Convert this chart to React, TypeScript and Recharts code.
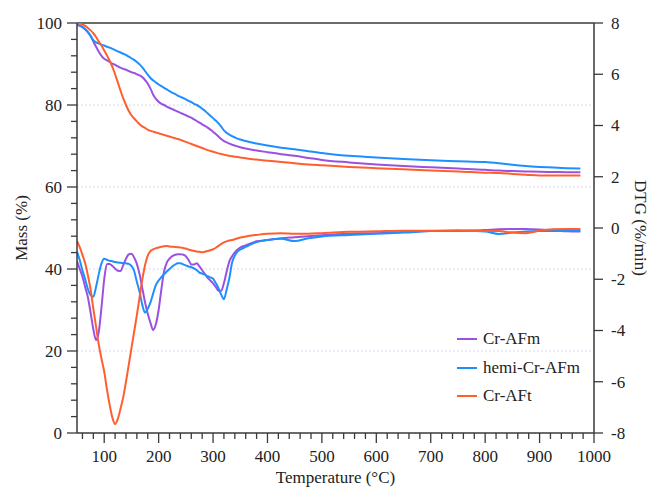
import React from 'react';
import { LineChart, Line, XAxis, YAxis, ReferenceLine, Legend, Label } from 'recharts';

const temps = [
  50, 55, 60, 65, 70, 75, 80, 85, 90, 95, 100, 105, 110, 115, 120, 125, 130, 135, 140, 145,
  150, 155, 160, 165, 170, 175, 180, 185, 190, 195, 200, 205, 210, 215, 220, 225, 230, 235, 240, 245,
  250, 255, 260, 265, 270, 275, 280, 285, 290, 295, 300, 305, 310, 315, 320, 325, 330, 335, 340, 345,
  350, 360, 380, 400, 425, 450, 475, 500, 550, 600, 650, 700, 750, 800, 825, 850, 875, 900, 925, 950, 975,
];

const massAFm = [
  99.5, 99.3, 99.0, 98.5, 97.8, 96.8, 95.5, 94.2, 93.0, 92.0, 91.3, 90.9, 90.5, 90.1, 89.8, 89.4, 89.1, 88.8, 88.6, 88.3,
  88.0, 87.8, 87.5, 87.2, 86.8, 86.1, 85.2, 84.0, 82.5, 81.5, 80.8, 80.3, 80.0, 79.6, 79.3, 79.0, 78.7, 78.4, 78.1, 77.8,
  77.5, 77.2, 76.9, 76.5, 76.1, 75.7, 75.3, 74.9, 74.5, 74.0, 73.5, 72.9, 72.3, 71.7, 71.2, 70.9, 70.6, 70.3, 70.1, 69.9,
  69.7, 69.4, 68.9, 68.5, 68.0, 67.6, 67.1, 66.6, 66.0, 65.5, 65.1, 64.8, 64.5, 64.2, 64.0, 63.9, 63.8, 63.7, 63.65, 63.6, 63.6,
];

const massHemi = [
  99.7, 99.4, 99.0, 98.5, 97.8, 96.9, 95.8, 95.3, 95.0, 94.7, 94.5, 94.2, 94.0, 93.7, 93.4, 93.1, 92.8, 92.5, 92.2, 91.8,
  91.4, 91.0, 90.5, 89.9, 89.2, 88.3, 87.4, 86.6, 86.0, 85.5, 85.0, 84.6, 84.2, 83.8, 83.4, 83.0, 82.7, 82.3, 82.0, 81.7,
  81.4, 81.0, 80.7, 80.3, 80.0, 79.6, 79.1, 78.6, 78.0, 77.4, 76.8, 76.2, 75.5, 74.7, 73.8, 73.2, 72.8, 72.4, 72.1, 71.8,
  71.6, 71.2, 70.6, 70.1, 69.6, 69.2, 68.7, 68.3, 67.6, 67.2, 66.8, 66.5, 66.3, 66.1, 65.8, 65.4, 65.1, 64.9, 64.75, 64.6, 64.5,
];

const massAFt = [
  100, 99.9, 99.6, 99.3, 98.8, 98.2, 97.5, 96.6, 95.5, 94.5, 93.3, 92.1, 90.8, 89.3, 87.5, 85.5, 83.5, 81.6, 80.0, 78.6,
  77.5, 76.7, 76.0, 75.3, 74.8, 74.4, 74.0, 73.7, 73.5, 73.3, 73.1, 72.9, 72.7, 72.5, 72.3, 72.1, 71.9, 71.7, 71.5, 71.25,
  71.0, 70.75, 70.5, 70.25, 70.0, 69.75, 69.5, 69.25, 69.0, 68.8, 68.6, 68.4, 68.2, 68.05, 67.9, 67.75, 67.6, 67.5, 67.4, 67.3,
  67.2, 67.0, 66.7, 66.4, 66.1, 65.8, 65.5, 65.3, 64.9, 64.6, 64.3, 64.0, 63.8, 63.5, 63.4, 63.2, 63.0, 62.8, 62.8, 62.8, 62.8,
];

const dtgAFm = [
  -1.3, -1.6, -1.9, -2.3, -2.7, -3.3, -3.95, -4.37, -4.05, -3.1, -2.0, -1.4, -1.4, -1.48, -1.58, -1.67, -1.68, -1.45, -1.2, -1.03,
  -1.0, -1.15, -1.4, -1.8, -2.35, -2.9, -3.35, -3.7, -3.98, -3.75, -3.2, -2.4, -1.7, -1.35, -1.2, -1.1, -1.05, -1.02, -1.02, -1.04,
  -1.1, -1.25, -1.42, -1.42, -1.38, -1.5, -1.65, -1.8, -1.95, -2.05, -2.16, -2.3, -2.45, -2.45, -2.15, -1.7, -1.3, -1.1, -0.95, -0.84,
  -0.76, -0.68, -0.52, -0.47, -0.4, -0.36, -0.32, -0.28, -0.22, -0.2, -0.16, -0.12, -0.12, -0.08, -0.05, -0.04, -0.04, -0.06, -0.1, -0.13, -0.14,
];

const dtgHemi = [
  -0.92, -1.25, -1.65, -2.0, -2.38, -2.62, -2.68, -2.3, -1.8, -1.38, -1.2, -1.24, -1.28, -1.3, -1.33, -1.35, -1.36, -1.37, -1.38, -1.4,
  -1.48, -1.68, -2.1, -2.5, -3.0, -3.3, -3.15, -2.9, -2.55, -2.22, -2.05, -1.92, -1.8, -1.7, -1.6, -1.5, -1.43, -1.38, -1.38, -1.42,
  -1.46, -1.5, -1.53, -1.58, -1.65, -1.74, -1.78, -1.82, -1.88, -1.93, -1.98, -2.15, -2.35, -2.6, -2.78, -2.4, -1.95, -1.35, -1.08, -0.92,
  -0.84, -0.74, -0.55, -0.47, -0.42, -0.51, -0.4, -0.33, -0.27, -0.22, -0.18, -0.12, -0.1, -0.14, -0.23, -0.18, -0.14, -0.12, -0.12, -0.12, -0.1,
];

const dtgAFt = [
  -0.5, -0.75, -1.05, -1.38, -1.85, -2.4, -3.15, -3.85, -4.55, -5.1, -5.6, -6.3, -6.9, -7.4, -7.65, -7.45, -7.05, -6.6, -6.0, -5.35,
  -4.7, -4.05, -3.4, -2.7, -2.0, -1.45, -1.08, -0.9, -0.83, -0.79, -0.76, -0.73, -0.71, -0.7, -0.72, -0.73, -0.74, -0.75, -0.76, -0.78,
  -0.8, -0.84, -0.87, -0.9, -0.92, -0.93, -0.95, -0.93, -0.9, -0.87, -0.83, -0.77, -0.7, -0.62, -0.56, -0.52, -0.49, -0.47, -0.44, -0.4,
  -0.37, -0.33, -0.27, -0.22, -0.2, -0.22, -0.22, -0.2, -0.15, -0.13, -0.11, -0.11, -0.1, -0.12, -0.12, -0.18, -0.2, -0.1, -0.05, -0.04, -0.04,
];

const seriesNames = ['Cr-AFm', 'hemi-Cr-AFm', 'Cr-AFt'];
const seriesColors = ['#9B51E0', '#1E8FFF', '#FF5F2E'];

const xTicks = Array.from({ length: 48 }, (_, i) => 60 + i * 20);
const leftTicks = Array.from({ length: 26 }, (_, i) => i * 4);
const rightTicks = [-8, -6, -4, -2, 0, 2, 4, 6, 8];
const gridValues = [20, 40, 60, 80];

const data = temps.map((t, i) => ({
  T: t,
  mAFm: massAFm[i],
  mHemi: massHemi[i],
  mAFt: massAFt[i],
  dAFm: dtgAFm[i],
  dHemi: dtgHemi[i],
  dAFt: dtgAFt[i],
}));

const FONT = '"Liberation Serif", "Times New Roman", serif';
const AXIS = '#3a3a3a';
const TXT = '#222';

const LeftTick = (props: any) => {
  const { x, y, payload } = props;
  const major = payload.value % 20 === 0;
  return (
    <g>
      <line x1={x} x2={x - (major ? 10 : 6)} y1={y} y2={y} stroke={AXIS} strokeWidth={1.3} />
      {major && (
        <text x={x - 15} y={y} dy="0.35em" textAnchor="end" fontSize={17} fontFamily={FONT} fill={TXT}>
          {payload.value}
        </text>
      )}
    </g>
  );
};

const RightTick = (props: any) => {
  const { x, y, payload } = props;
  return (
    <g>
      <line x1={x} x2={x + 9} y1={y} y2={y} stroke={AXIS} strokeWidth={1.3} />
      <text x={x + 17} y={y} dy="0.35em" textAnchor="start" fontSize={17} fontFamily={FONT} fill={TXT}>
        {payload.value}
      </text>
    </g>
  );
};

const BottomTick = (props: any) => {
  const { x, y, payload } = props;
  const major = payload.value % 100 === 0;
  return (
    <g>
      <line x1={x} x2={x} y1={y} y2={y + (major ? 10 : 6)} stroke={AXIS} strokeWidth={1.3} />
      {major && (
        <text x={x} y={y + 29} textAnchor="middle" fontSize={17} fontFamily={FONT} fill={TXT}>
          {payload.value}
        </text>
      )}
    </g>
  );
};

const LegendContent = () => (
  <div style={{ fontFamily: FONT, fontSize: 17, color: TXT }}>
    {seriesNames.map((n, i) => (
      <div key={n} style={{ display: 'flex', alignItems: 'center', height: 28.5 }}>
        <span style={{ display: 'inline-block', width: 20, height: 2, background: seriesColors[i], marginRight: 6 }} />
        <span>{n}</span>
      </div>
    ))}
  </div>
);

export default function App() {
  return (
    <div style={{ position: 'absolute', left: 0, top: 0, width: 650, height: 487, background: '#fff' }}>
      <LineChart width={650} height={487} data={data} margin={{ top: 23, right: 0, bottom: 10, left: 0 }}>
        <XAxis
          dataKey="T"
          type="number"
          domain={[50, 1000]}
          ticks={xTicks}
          interval={0}
          tickSize={0}
          tickMargin={0}
          tickLine={false}
          tick={<BottomTick />}
          axisLine={{ stroke: AXIS, strokeWidth: 1.5 }}
          height={44}
          allowDataOverflow
        >
          <Label
            content={(p: any) => {
              const vb = p.viewBox;
              return (
                <text x={vb.x + vb.width / 2} y={vb.y + 50} textAnchor="middle" fontSize={17} fontFamily={FONT} fill={TXT}>
                  Temperature (°C)
                </text>
              );
            }}
          />
        </XAxis>
        <YAxis
          yAxisId="left"
          domain={[0, 100]}
          ticks={leftTicks}
          interval={0}
          tickSize={0}
          tickMargin={0}
          tickLine={false}
          tick={<LeftTick />}
          axisLine={{ stroke: AXIS, strokeWidth: 1.5 }}
          width={77}
          allowDataOverflow
        >
          <Label
            content={(p: any) => {
              const vb = p.viewBox;
              const cx = 21;
              const cy = vb.y + vb.height / 2;
              return (
                <text x={cx} y={cy} transform={`rotate(-90, ${cx}, ${cy})`} textAnchor="middle" dominantBaseline="central" fontSize={17} fontFamily={FONT} fill={TXT}>
                  Mass (%)
                </text>
              );
            }}
          />
        </YAxis>
        <YAxis
          yAxisId="right"
          orientation="right"
          domain={[-8, 8]}
          ticks={rightTicks}
          interval={0}
          tickSize={0}
          tickMargin={0}
          tickLine={false}
          tick={<RightTick />}
          axisLine={{ stroke: AXIS, strokeWidth: 1.5 }}
          width={56}
          allowDataOverflow
        >
          <Label
            content={(p: any) => {
              const vb = p.viewBox;
              const cx = vb.x + 46;
              const cy = vb.y + vb.height / 2;
              return (
                <text x={cx} y={cy} transform={`rotate(90, ${cx}, ${cy})`} textAnchor="middle" dominantBaseline="central" fontSize={17} fontFamily={FONT} fill={TXT}>
                  DTG (%/min)
                </text>
              );
            }}
          />
        </YAxis>
        {gridValues.map((v) => (
          <ReferenceLine key={v} yAxisId="left" y={v} stroke="#d6d6f5" strokeDasharray="2 2" strokeWidth={1} />
        ))}
        <ReferenceLine yAxisId="left" y={100} stroke={AXIS} strokeWidth={1.5} />
        <Line yAxisId="left" type="monotone" dataKey="mAFm" stroke={seriesColors[0]} strokeWidth={2} dot={false} isAnimationActive={false} />
        <Line yAxisId="left" type="monotone" dataKey="mHemi" stroke={seriesColors[1]} strokeWidth={2} dot={false} isAnimationActive={false} />
        <Line yAxisId="left" type="monotone" dataKey="mAFt" stroke={seriesColors[2]} strokeWidth={2} dot={false} isAnimationActive={false} />
        <Line yAxisId="right" type="monotone" dataKey="dAFm" stroke={seriesColors[0]} strokeWidth={2} dot={false} isAnimationActive={false} />
        <Line yAxisId="right" type="monotone" dataKey="dHemi" stroke={seriesColors[1]} strokeWidth={2} dot={false} isAnimationActive={false} />
        <Line yAxisId="right" type="monotone" dataKey="dAFt" stroke={seriesColors[2]} strokeWidth={2} dot={false} isAnimationActive={false} />
        <Legend
          layout="vertical"
          align="center"
          verticalAlign="middle"
          content={<LegendContent />}
          wrapperStyle={{ position: 'absolute', left: 457, top: 325, width: 160 }}
        />
      </LineChart>
    </div>
  );
}
